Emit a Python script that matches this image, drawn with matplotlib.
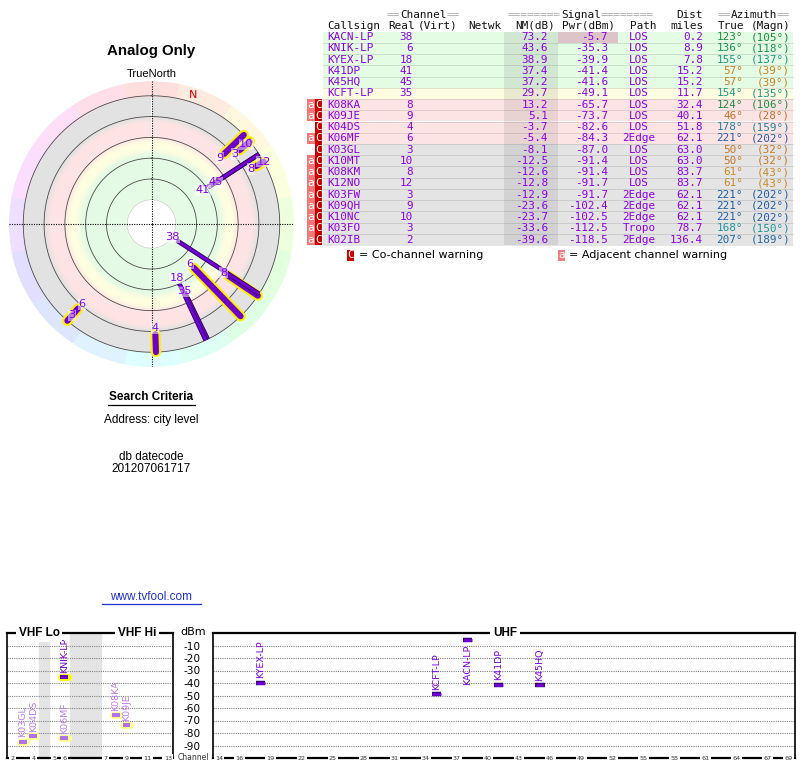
import numpy as np
import matplotlib
matplotlib.use('Agg')
import matplotlib.pyplot as plt
from matplotlib.colors import LinearSegmentedColormap, Normalize, hsv_to_rgb
from matplotlib.patches import Rectangle
from matplotlib.transforms import blended_transform_factory

# ---------------- data ----------------
callsign = ['KACN-LP', 'KNIK-LP', 'KYEX-LP', 'K41DP', 'K45HQ', 'KCFT-LP', 'K08KA', 'K09JE', 'K04DS',
            'K06MF', 'K03GL', 'K10MT', 'K08KM', 'K12NO', 'K03FW', 'K09QH', 'K10NC', 'K03FO', 'K02IB']
channel = [38, 6, 18, 41, 45, 35, 8, 9, 4, 6, 3, 10, 8, 12, 3, 9, 10, 3, 2]
nm_db = [73.2, 43.6, 38.9, 37.4, 37.2, 29.7, 13.2, 5.1, -3.7, -5.4, -8.1, -12.5, -12.6, -12.8, -12.9,
         -23.6, -23.7, -33.6, -39.6]
pwr_dbm = [-5.7, -35.3, -39.9, -41.4, -41.6, -49.1, -65.7, -73.7, -82.6, -84.3, -87.0, -91.4, -91.4,
           -91.7, -91.7, -102.4, -102.5, -112.5, -118.5]
path = ['LOS', 'LOS', 'LOS', 'LOS', 'LOS', 'LOS', 'LOS', 'LOS', 'LOS', '2Edge', 'LOS', 'LOS', 'LOS',
        'LOS', '2Edge', '2Edge', '2Edge', 'Tropo', '2Edge']
dist_mi = [0.2, 8.9, 7.8, 15.2, 15.2, 11.7, 32.4, 40.1, 51.8, 62.1, 63.0, 63.0, 83.7, 83.7, 62.1, 62.1,
           62.1, 78.7, 136.4]
az_true = [123, 136, 155, 57, 57, 154, 124, 46, 178, 221, 50, 50, 61, 61, 221, 221, 221, 168, 207]
az_magn = [105, 118, 137, 39, 39, 135, 106, 28, 159, 202, 32, 32, 43, 43, 202, 202, 202, 150, 189]
warn_co = [0, 0, 0, 0, 0, 0, 1, 1, 1, 1, 1, 1, 1, 1, 1, 1, 1, 1, 1]
warn_adj = [0, 0, 0, 0, 0, 0, 1, 1, 0, 1, 0, 1, 1, 1, 1, 1, 1, 1, 1]

ring_levels = [-20, -40, -60, -80, -100]
dbm_ticks = [-10, -20, -30, -40, -50, -60, -70, -80, -90]
vhf_tick_channels = [2, 4, 5, 6, 7, 9, 11, 13]
uhf_tick_channels = [14, 16, 19, 22, 25, 28, 31, 34, 37, 40, 43, 46, 49, 52, 55, 58, 61, 64, 67, 69]

# ---------------- styling helpers ----------------
W, H = 800, 768
fig = plt.figure(figsize=(8, 7.68), dpi=100)
fig.patch.set_facecolor('white')

SANS = ['Liberation Sans', 'DejaVu Sans']
VER = ['DejaVu Sans']
MONO = ['DejaVu Sans Mono']
PURPLE = '#8a00e6'


def fr(x0, y0, x1, y1):
    return [x0 / W, 1 - y1 / H, (x1 - x0) / W, (y1 - y0) / H]


def row_color(v):
    if v > 33:
        return '#e4fbe4'
    if v > 20:
        return '#fdfde2'
    if v > -7:
        return '#fde4e4'
    return '#e4e4e4'


def az_color(a):
    h = np.interp(a, [0, 60, 120, 180, 240, 300, 360], [0, 36, 135, 195, 222, 280, 360]) / 360
    v = np.interp(a, [0, 60, 120, 180, 240, 360], [0.78, 0.78, 0.55, 0.62, 0.66, 0.7])
    return hsv_to_rgb((h, 0.8, v))


# ---------------- background / text layer (pixel coords) ----------------
bg = fig.add_axes([0, 0, 1, 1])
bg.set_xlim(0, W)
bg.set_ylim(H, 0)
bg.axis('off')

bg.text(151.5, 51, 'Analog Only', ha='center', va='center', fontsize=10.8, fontweight='bold', family=SANS)
bg.text(151.5, 74, 'TrueNorth', ha='center', va='center', fontsize=8, family=SANS)
bg.text(151.5, 397, 'Search Criteria', ha='center', va='center', fontsize=8.5, fontweight='bold', family=SANS)
bg.plot([108, 195], [404.5, 404.5], color='black', lw=0.9)
bg.text(151.5, 420, 'Address: city level', ha='center', va='center', fontsize=8.5, family=SANS)
bg.text(151.5, 457, 'db datecode', ha='center', va='center', fontsize=8.5, family=SANS)
bg.text(151.5, 469, '201207061717', ha='center', va='center', fontsize=8.5, family=SANS)
bg.text(151.5, 597, 'www.tvfool.com', ha='center', va='center', fontsize=8.5, family=SANS, color='#2233cc')
bg.plot([102, 201], [604, 604], color='#2233cc', lw=0.9)

# ---- table ----
FS = 7.9
CW = FS * 100 / 72 * 0.602
row0, pitch = 37.2, 11.24
n = len(callsign)
tab_left, tab_right = 323, 793


def mono(x, y, segs, ha='left'):
    total = sum(len(s) for s, _ in segs)
    x0 = x if ha == 'left' else x - total * CW
    for s, c in segs:
        bg.text(x0, y, s, ha='left', va='center', fontsize=FS, family=MONO, color=c)
        x0 += len(s) * CW


G = '#a8a8a8'
K = '#111111'
mono(387, 15, [('==', G), ('Channel', K), ('==', G)])
mono(508, 15, [('========', G), ('Signal', K), ('========', G)])
mono(703, 15, [('Dist', K)], ha='right')
mono(790, 15, [('==', G), ('Azimuth', K), ('==', G)], ha='right')
mono(327, 26, [('Callsign', K)])
mono(388, 26, [('Real', K)])
mono(418, 26, [('(Virt)', K)])
mono(468, 26, [('Netwk', K)])
mono(555, 26, [('NM(dB)', K)], ha='right')
mono(615, 26, [('Pwr(dBm)', K)], ha='right')
mono(630, 26, [('Path', K)])
mono(703, 26, [('miles', K)], ha='right')
mono(718, 26, [('True', K)])
mono(790, 26, [('(Magn)', K)], ha='right')

for i in range(n):
    yc = row0 + i * pitch
    top = yc - pitch / 2
    bg.add_patch(Rectangle((tab_left, top), tab_right - tab_left, pitch, facecolor=row_color(nm_db[i]),
                           edgecolor='none', zorder=0))
    if pwr_dbm[i] > -10:
        bg.add_patch(Rectangle((558, top), 60, pitch, facecolor='#dcc4c8', edgecolor='none', zorder=0.5))
    bg.plot([tab_left, tab_right], [top + pitch, top + pitch], color='black', alpha=0.12, lw=0.6, zorder=0.6)
    if warn_adj[i]:
        bg.add_patch(Rectangle((306.5, top), 8.5, pitch, facecolor='#f07878', edgecolor='none'))
        bg.text(310.7, yc, 'a', ha='center', va='center', fontsize=FS, family=MONO, color='white')
    if warn_co[i]:
        bg.add_patch(Rectangle((315, top), 7, pitch, facecolor='#c40000', edgecolor='none'))
        bg.text(318.5, yc, 'C', ha='center', va='center', fontsize=FS, family=MONO, color='white')
    mono(327, yc, [(callsign[i], PURPLE)])
    mono(413, yc, [(str(channel[i]), PURPLE)], ha='right')
    mono(548, yc, [(f'{nm_db[i]:.1f}', PURPLE)], ha='right')
    mono(608, yc, [(f'{pwr_dbm[i]:.1f}', PURPLE)], ha='right')
    bg.text(639, yc, path[i], ha='center', va='center', fontsize=FS, family=MONO, color=PURPLE)
    mono(703, yc, [(f'{dist_mi[i]:.1f}', PURPLE)], ha='right')
    ac = az_color(az_true[i])
    mono(743, yc, [(f'{az_true[i]}°', ac)], ha='right')
    mono(790, yc, [(f'({az_magn[i]}°)', ac)], ha='right')

bg.add_patch(Rectangle((504, row0 - pitch / 2), 54, n * pitch, facecolor='black', alpha=0.08,
                       edgecolor='none', zorder=0.55))

# legend
ly = 255
bg.add_patch(Rectangle((347, ly - 5.5), 6.5, 11, facecolor='#c40000', edgecolor='none'))
bg.text(350.2, ly, 'C', ha='center', va='center', fontsize=FS, family=MONO, color='white')
bg.text(359, ly, '= Co-channel warning', ha='left', va='center', fontsize=8, family=VER)
bg.add_patch(Rectangle((558, ly - 5.5), 7, 11, facecolor='#f08080', edgecolor='none'))
bg.text(561.5, ly, 'a', ha='center', va='center', fontsize=FS, family=MONO, color='white')
bg.text(569, ly, '= Adjacent channel warning', ha='left', va='center', fontsize=8, family=VER)

# ---------------- polar radar ----------------
ax = fig.add_axes(fr(8.5, 81, 294.5, 367), projection='polar')
ax.set_theta_zero_location('N')
ax.set_theta_direction(-1)
R_CENTER, R_RIM, R_EDGE = 23.3, -114.2, -100
ax.set_ylim(R_CENTER, R_RIM)
ax.grid(False)
ax.set_xticks([])
ax.set_yticks([])
ax.spines['polar'].set_visible(False)
ax.patch.set_facecolor('white')

th = np.linspace(0, 2 * np.pi, 361)
rr = np.linspace(0, R_EDGE, 201)
TH, RR = np.meshgrid(th, rr)
C = (0.5 * (rr[:-1] + rr[1:]))[:, None] * np.ones((1, len(th) - 1))
stops = [(-100, '#e2e2e2'), (-80, '#e2e2e2'), (-74, '#fde3e3'), (-61, '#fde3e3'), (-55, '#fdfde0'),
         (-49, '#fdfde0'), (-43, '#e4fae4'), (0, '#e6fbe6')]
zone_cmap = LinearSegmentedColormap.from_list('zones', [((v + 100) / 100, c) for v, c in stops])
ax.pcolormesh(TH, RR, C, cmap=zone_cmap, norm=Normalize(-100, 0), shading='flat', zorder=0)

for k in range(16):
    a0 = np.radians(k * 22.5 - 11.25)
    tw = np.linspace(a0, a0 + np.radians(22.5), 12)
    col = hsv_to_rgb((k * 22.5 / 360, 0.13, 1.0))
    ax.fill_between(tw, R_EDGE, R_RIM, color=col, lw=0.3, zorder=0)

for v in ring_levels:
    ax.plot(th, np.full_like(th, v), color='#4a4a4a', lw=0.6, zorder=1)
ax.plot(th, np.zeros_like(th), color='#c8c8c8', lw=0.4, zorder=1)
for a in [0, np.pi / 2, np.pi, 3 * np.pi / 2]:
    ax.plot([a, a], [R_RIM, R_CENTER], color='black', ls=(0, (1, 1.2)), lw=0.8, zorder=1.5)

decl = az_true[0] - az_magn[0]
ax.text(np.radians(decl), -107, 'N', ha='center', va='center', fontsize=8, color='#cc0000', family=VER)

order = sorted(range(n), key=lambda i: pwr_dbm[i])
for i in order:
    if pwr_dbm[i] <= R_EDGE:
        continue
    t = np.radians(az_true[i])
    if channel[i] <= 13:
        ax.plot([t, t], [pwr_dbm[i], R_EDGE], color='#ffee00', lw=7.4, solid_capstyle='round', zorder=2)
        ax.plot([t, t], [pwr_dbm[i], R_EDGE], color='#6e00cc', lw=4.4, solid_capstyle='round', zorder=2)
    else:
        ax.plot([t, t], [pwr_dbm[i], R_EDGE], color='#2c0058', lw=3.4, solid_capstyle='butt', zorder=2)
        ax.plot([t, t], [pwr_dbm[i], R_EDGE], color='#7000d4', lw=2.2, solid_capstyle='butt', zorder=2)

# labels with simple outward dodge (in dB units, ~1.04 px per dB)
placed = []
for i in sorted(range(n), key=lambda i: -pwr_dbm[i]):
    if pwr_dbm[i] <= R_EDGE:
        continue
    t = np.radians(az_true[i])
    d = R_CENTER - (pwr_dbm[i] + 5.5)
    while any(np.hypot(d * np.sin(t) - px_, d * np.cos(t) - py_) < 14 for px_, py_ in placed):
        d += 0.5
    placed.append((d * np.sin(t), d * np.cos(t)))
    ax.text(t, R_CENTER - d, str(channel[i]), ha='center', va='center', fontsize=8.2, color='#8a00ee',
            family=VER, zorder=3,
            bbox=dict(boxstyle='square,pad=0.05', fc='white', ec='none', alpha=0.5))

# ---------------- spectrum panels ----------------
def vhf_pos(ch):
    if ch <= 4:
        return ch - 2
    if ch <= 6:
        return ch - 1
    return ch + 2


av = fig.add_axes(fr(7, 633, 173, 758))
au = fig.add_axes(fr(213, 633, 795, 758))
av.set_xlim(-0.55, 15.5)
au.set_xlim(13.42, 69.65)
for a_ in (av, au):
    a_.set_ylim(-100, 0)
    a_.set_yticks(dbm_ticks)
    a_.set_xticks([])
    a_.tick_params(axis='y', length=0)
    for v in dbm_ticks:
        a_.axhline(v, color='#808080', ls=(0, (1, 1)), lw=0.8, zorder=1)
    for s in a_.spines.values():
        s.set_linewidth(1.2)
    a_.spines['bottom'].set_linewidth(1.6)
    a_.spines['top'].set_linewidth(1.6)
av.set_yticklabels([])
au.set_yticklabels([str(v) for v in dbm_ticks], fontsize=7.6, family=VER)
au.tick_params(axis='y', pad=9)

av.axvspan(2.5, 3.5, color='#e4e4e4', zorder=0)
av.axvspan(5.5, 8.5, color='#e4e4e4', zorder=0)

tb = dict(boxstyle='square,pad=0.25', fc='white', ec='none')
av.text(0.193, 1.0, 'VHF Lo', transform=av.transAxes, ha='center', va='center', fontsize=8.5,
        fontweight='bold', family=SANS, bbox=tb, zorder=5)
av.text(0.783, 1.0, 'VHF Hi', transform=av.transAxes, ha='center', va='center', fontsize=8.5,
        fontweight='bold', family=SANS, bbox=tb, zorder=5)
au.text(0.502, 1.0, 'UHF', transform=au.transAxes, ha='center', va='center', fontsize=8.5,
        fontweight='bold', family=SANS, bbox=tb, zorder=5)

sb = dict(boxstyle='square,pad=0.2', fc='white', ec='none')
trv = blended_transform_factory(av.transData, av.transAxes)
for ch in vhf_tick_channels:
    av.text(vhf_pos(ch), 0, str(ch), transform=trv, ha='center', va='center', fontsize=4.6,
            color='#333333', bbox=sb, zorder=5, clip_on=False)
tru = blended_transform_factory(au.transData, au.transAxes)
for ch in uhf_tick_channels:
    au.text(ch, 0, str(ch), transform=tru, ha='center', va='center', fontsize=4.6,
            color='#333333', bbox=sb, zorder=5, clip_on=False)

bg.text(193, 632, 'dBm', ha='center', va='center', fontsize=8, family=VER)
bg.text(193, 758, 'Channel', ha='center', va='center', fontsize=5.5, family=VER, color='#333333')

for i in range(n):
    p = pwr_dbm[i]
    if p <= -90:
        continue
    strong = nm_db[i] >= 20
    lab_c = '#8000e0' if strong else '#c080f0'
    if channel[i] <= 13:
        a_, x = av, vhf_pos(channel[i])
        halo = '#ffff00' if strong else '#ffff90'
        bar_c = '#6a00cc' if strong else '#b070f0'
        a_.plot([x - 0.3, x + 0.3], [p, p], color=halo, lw=5.2, solid_capstyle='round', zorder=3)
        a_.plot([x - 0.38, x + 0.38], [p, p], color=bar_c, lw=2.9, solid_capstyle='butt', zorder=3)
    else:
        a_, x = au, channel[i]
        a_.plot([x - 0.46, x + 0.46], [p, p], color='#3a0070', lw=3.2, solid_capstyle='butt', zorder=3)
        a_.plot([x - 0.42, x + 0.42], [p, p], color='#7000d8', lw=2.0, solid_capstyle='butt', zorder=3)
    if p > -15:
        a_.text(x, p - 3.5, callsign[i], rotation=90, ha='center', va='top', fontsize=6.8, color=lab_c,
                family=VER, zorder=4)
    else:
        a_.text(x, p + 3.5, callsign[i], rotation=90, ha='center', va='bottom', fontsize=6.8, color=lab_c,
                family=VER, zorder=4)

fig.savefig('out.png', dpi=100, facecolor='white')
